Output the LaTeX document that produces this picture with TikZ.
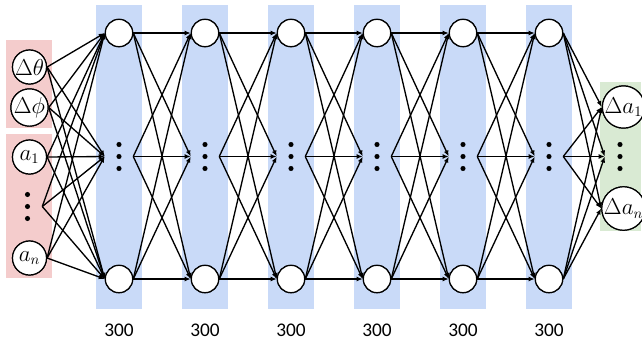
\documentclass[tikz,border=0pt]{standalone}
\usepackage{fontspec}
\newfontfamily\lblfont{Carlito}
\usetikzlibrary{arrows.meta}
\definecolor{hblue}{HTML}{C9DAF8}
\definecolor{ipink}{HTML}{F4CCCC}
\definecolor{ogreen}{HTML}{D9EAD3}
\begin{document}
\begin{tikzpicture}[x=0.75pt,y=-0.75pt,
  neuron/.style={circle,draw,fill=white,line width=0.9pt,inner sep=0pt,minimum size=20.5pt},
  inneuron/.style={circle,draw,fill=white,line width=0.9pt,inner sep=0pt,minimum size=25.5pt,font=\fontsize{16}{18}\selectfont},
  outneuron/.style={circle,draw,fill=white,line width=0.9pt,inner sep=0pt,minimum size=26pt,font=\fontsize{16}{18}\selectfont},
  vdotsbox/.style={rectangle,inner sep=0pt,minimum width=21pt,minimum height=22pt},
  conn/.style={-{Latex[length=4.5pt,width=3.6pt]},line width=1pt},
  dotmark/.style={fill=black},
  cnt/.style={font=\lblfont\fontsize{14.5}{16}\selectfont}
]
\useasboundingbox (0,0) rectangle (642,344);
% backgrounds
\fill[ipink] (6,40) rectangle (52,128);
\fill[ipink] (6,134) rectangle (52,278);
\fill[ogreen] (600,82) rectangle (641,231);
\foreach \i/\x in {1/119,2/205,3/291,4/377,5/463,6/549}{
  \fill[hblue] (\x-23,5) rectangle (\x+23,309);
}
% hidden nodes (placed first as names, drawn later on top)
\foreach \i/\x in {1/119,2/205,3/291,4/377,5/463,6/549}{
  \node[vdotsbox] (m\i) at (\x,156.5) {};
  \node[cnt] (c\i) at (\x,330) {300};
}
% input nodes
\node[inneuron] (in1) at (29.5,67) {$\Delta\theta$};
\node[inneuron] (in2) at (29.5,107.5) {$\Delta\phi$};
\node[inneuron] (in3) at (29.5,157) {$a_1$};
\node[vdotsbox,minimum width=21.75pt] (ind) at (27.5,206.5) {};
\node[inneuron] (in4) at (29.5,258) {$a_n$};
% output nodes
\node[outneuron] (o1) at (623.5,107) {$\Delta a_1$};
\node[vdotsbox,minimum width=22.5pt] (od) at (620,156.5) {};
\node[outneuron] (o2) at (623.5,208.5) {$\Delta a_n$};
% hidden circles
\foreach \i/\x in {1/119,2/205,3/291,4/377,5/463,6/549}{
  \node[neuron] (t\i) at (\x,33) {};
  \node[neuron] (b\i) at (\x,279) {};
}
% edges input -> layer 1
\foreach \s in {in1,in2,in3,ind,in4}{
  \foreach \d in {t1,m1,b1}{
    \draw[conn] (\s.east) -- (\d.west);
  }
}
% edges hidden -> hidden
\foreach \i/\j in {1/2,2/3,3/4,4/5,5/6}{
  \foreach \s in {t,m,b}{
    \foreach \d in {t,m,b}{
      \draw[conn] (\s\i.east) -- (\d\j.west);
    }
  }
}
% edges layer 6 -> output
\foreach \s in {t6,m6,b6}{
  \foreach \d in {o1,od,o2}{
    \draw[conn] (\s.east) -- (\d.west);
  }
}
% redraw circles on top
\foreach \i/\x in {1/119,2/205,3/291,4/377,5/463,6/549}{
  \node[neuron] at (t\i) {};
  \node[neuron] at (b\i) {};
  \foreach \yy in {144.5,156.5,168.5}{
    \fill[dotmark] (\x,\yy) circle (1.9pt);
  }
}
\node[inneuron] at (in1) {$\Delta\theta$};
\node[inneuron] at (in2) {$\Delta\phi$};
\node[inneuron] at (in3) {$a_1$};
\node[inneuron] at (in4) {$a_n$};
\node[outneuron] at (o1) {$\Delta a_1$};
\node[outneuron] at (o2) {$\Delta a_n$};
\foreach \yy in {194.5,206.5,218.5}{
  \fill[dotmark] (27.5,\yy) circle (1.9pt);
}
\foreach \yy in {144.5,156.5,168.5}{
  \fill[dotmark] (620,\yy) circle (1.9pt);
}
\end{tikzpicture}
\end{document}
